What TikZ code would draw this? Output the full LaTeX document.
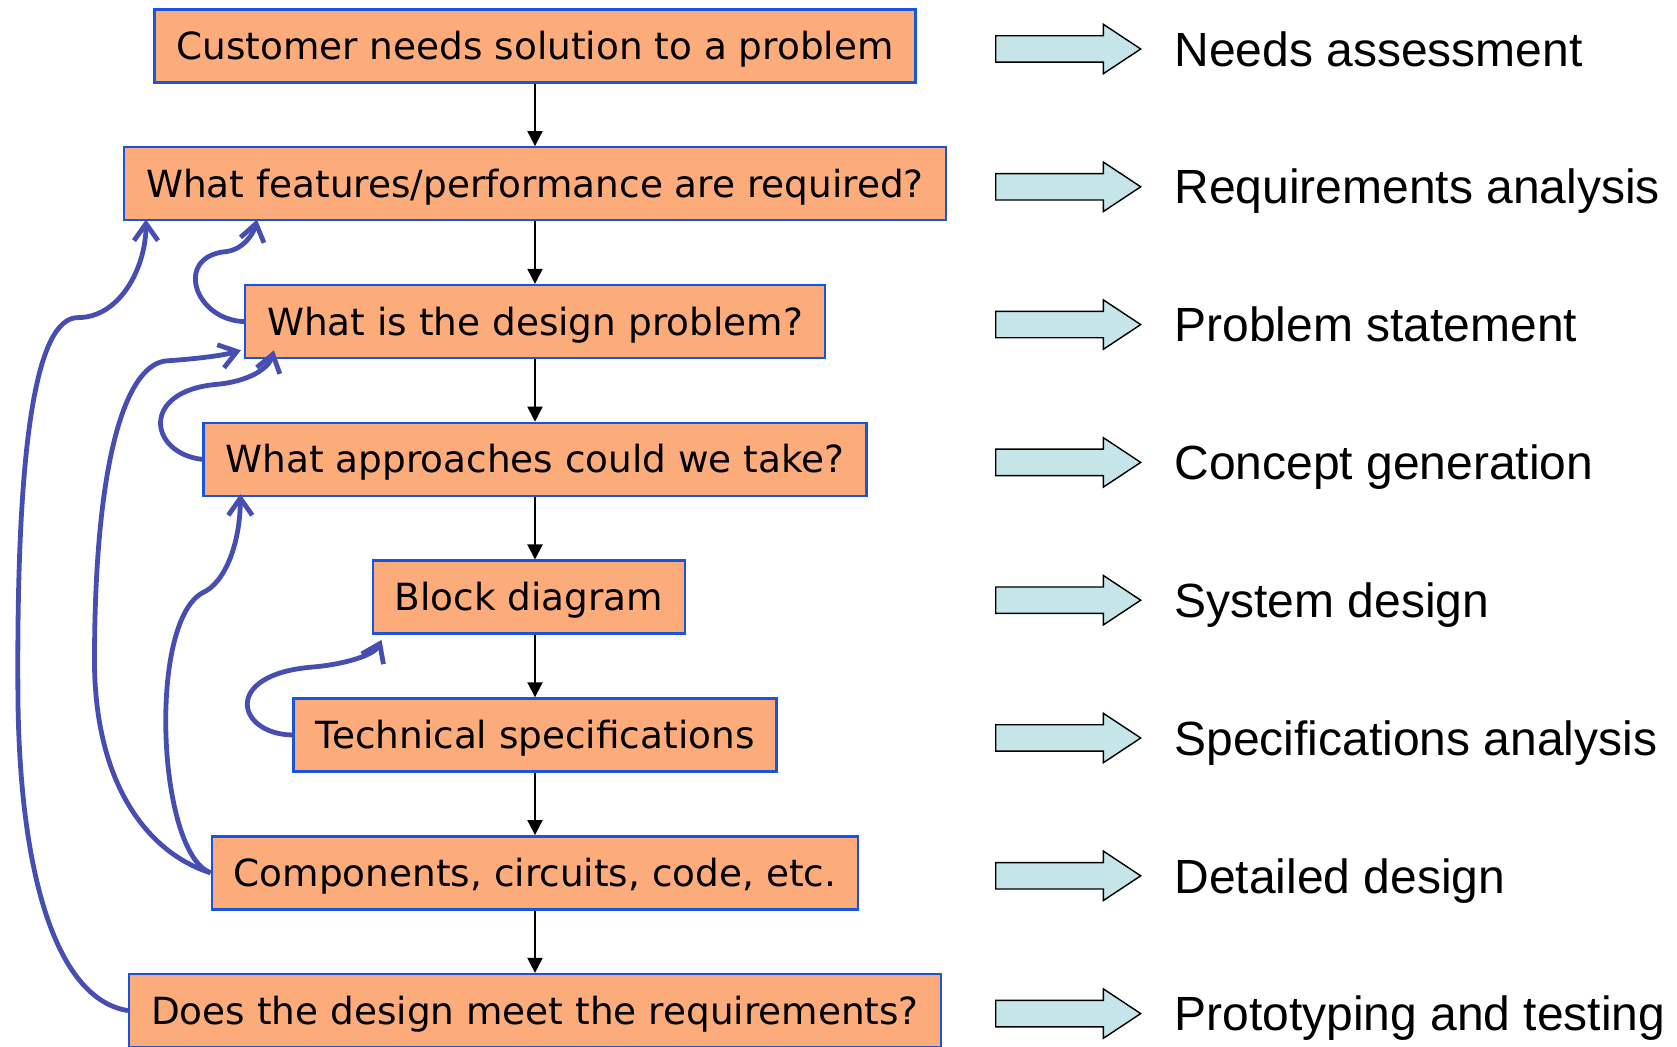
\documentclass[tikz,border=0pt]{standalone}
\usepackage{fontspec}
\usepackage{tikz}
\usetikzlibrary{arrows.meta,shapes.arrows}

\newfontfamily\boxfont{DejaVu Sans}
\newfontfamily\phasefont{Liberation Sans}

\definecolor{boxfill}{RGB}{252,172,122}
\definecolor{boxline}{RGB}{25,85,220}
\definecolor{loopblue}{RGB}{70,78,178}
\definecolor{arrowfill}{RGB}{198,229,232}

\begin{document}
\begin{tikzpicture}[x=0.5pt,y=-0.5pt,node distance=68.9pt,
    task node/.style={rectangle,draw=boxline,line width=1.2pt,fill=boxfill,
      minimum height=36.5pt,inner xsep=11pt,text height=13.6pt,text depth=0pt,
      font=\boxfont\fontsize{18.7pt}{22pt}\selectfont},
    phase node/.style={anchor=west,inner sep=0pt,text height=17.2pt,text depth=0pt,
      yshift=-1.5pt,font=\phasefont\fontsize{24pt}{28pt}\selectfont},
    phase arrow/.style={single arrow,draw=black,line width=0.7pt,fill=arrowfill,
      anchor=tail,minimum height=72.5pt,inner xsep=0pt,inner ysep=6.25pt,yshift=-1.5pt,
      single arrow head extend=5.75pt,single arrow tip angle=67},
    flow/.style={-{Triangle[length=7.5pt,width=7.5pt]},line width=1pt},
    feedback/.style={-{Straight Barb[length=8.5pt,width=12pt]},draw=loopblue,line width=2.4pt}]

  \useasboundingbox (0,0) rectangle (1677,1047);

  \node[task node] (cust)  at (535,46)      {Customer needs solution to a problem};
  \node[task node] (feat)  [below of=cust]  {What features/performance are required?};
  \node[task node] (prob)  [below of=feat]  {What is the design problem?};
  \node[task node] (appr)  [below of=prob]  {What approaches could we take?};
  \node[task node] (block) [below of=appr,xshift=-3pt]  {Block diagram};
  \node[task node] (spec)  [below of=block,xshift=3pt] {Technical specifications};
  \node[task node] (comp)  [below of=spec]  {Components, circuits, code, etc.};
  \node[task node] (test)  [below of=comp]  {Does the design meet the requirements?};

  \coordinate (arrx) at (995,0);
  \coordinate (labx) at (1174,0);
  \foreach \n/\t [count=\i] in {cust/Needs assessment,feat/Requirements analysis,
      prob/Problem statement,appr/Concept generation,block/System design,
      spec/Specifications analysis,comp/Detailed design,test/Prototyping and testing} {
    \node[phase arrow] (arr\i) at (\n -| arrx) {};
    \node[phase node] (ph\i) at (\n -| labx) {\t};
  }

  \foreach \a/\b in {cust/feat,feat/prob,prob/appr,appr/block,block/spec,spec/comp,comp/test}
    \draw[flow] (\a.south -| cust) -- (\b.north -| cust);

  \draw[feedback] (test.west) .. controls +(-70,-11) and +(2,180) .. ++(-110,-311)
    .. controls +(-2,-250) and +(-43,0) .. ++(60,-382)
    .. controls +(42,0) and +(0,48) .. ([xshift=11.5pt,yshift=1pt]feat.south west);
  \draw[feedback] (prob.west) .. controls +(-50,-2) and +(-52,5) .. ++(-18,-70)
    .. controls +(18,-2) and +(-3,13) .. ([xshift=67pt,yshift=1pt]feat.south west);
  \draw[feedback] (comp.west) .. controls +(-63,-20) and +(-2,130) .. ++(-116,-220)
    .. controls +(1,-200) and +(-40,2) .. ++(73,-292)
    .. controls +(30,-2) and +(-17,5) .. ([xshift=-1.5pt,yshift=4.5pt]prob.south west);
  \draw[feedback] (appr.west) .. controls +(-53,-6) and +(-77,7) .. ++(14,-75)
    .. controls +(33,-3) and +(-5,18) .. ([xshift=15pt,yshift=4.5pt]prob.south west);
  \draw[feedback] (comp.west) .. controls +(-53,-20) and +(-55,30) .. ++(-8,-280)
    .. controls +(23,-10) and +(0,48) .. ([xshift=19pt,yshift=1.5pt]appr.south west);
  \draw[feedback] (spec.west) .. controls +(-56,-1) and +(-92,7) .. ++(21,-68)
    .. controls +(33,-3) and +(-7,15) .. ([xshift=5pt,yshift=-2.5pt]block.south west);
\end{tikzpicture}
\end{document}
